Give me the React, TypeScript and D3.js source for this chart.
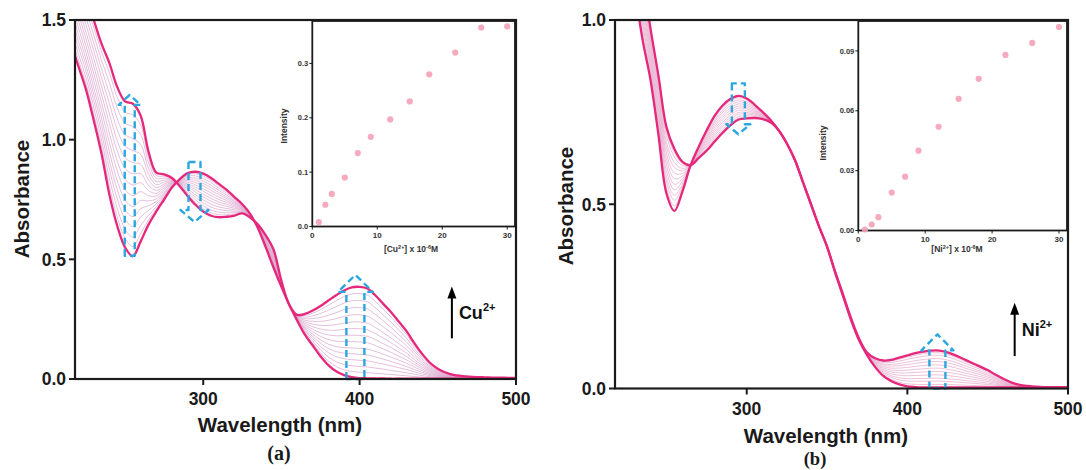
import React from 'react';
import * as d3 from 'd3';

// ---------- DATA ----------
const wavelengths = [218, 220, 225, 230, 235, 240, 245, 250, 255, 260, 265, 270, 275, 280, 285, 290, 295, 300, 305, 310, 315, 320, 325, 330, 335, 340, 345, 350, 355, 360, 365, 370, 375, 380, 385, 390, 395, 400, 405, 410, 415, 420, 425, 430, 435, 440, 445, 450, 455, 460, 465, 470, 475, 480, 485, 490, 495, 500];

// Panel (a): ligand alone and ligand + Cu2+
const cuStart = [1.35, 1.31, 1.21, 1.08, 0.94, 0.77, 0.64, 0.55, 0.513, 0.575, 0.645, 0.70, 0.75, 0.80, 0.835, 0.86, 0.866, 0.858, 0.84, 0.815, 0.79, 0.76, 0.73, 0.69, 0.63, 0.55, 0.465, 0.385, 0.31, 0.245, 0.185, 0.14, 0.095, 0.058, 0.032, 0.016, 0.008, 0.004, 0.003, 0.002, 0.002, 0.001, 0.001, 0.001, 0.001, 0.001, 0.001, 0.001, 0.001, 0.001, 0.001, 0.001, 0.001, 0.001, 0.001, 0.001, 0.001, 0.001];
const cuEnd = [1.78, 1.72, 1.60, 1.50, 1.40, 1.32, 1.22, 1.16, 1.15, 1.10, 0.95, 0.862, 0.855, 0.84, 0.805, 0.765, 0.728, 0.70, 0.682, 0.676, 0.678, 0.683, 0.692, 0.675, 0.645, 0.60, 0.54, 0.41, 0.31, 0.268, 0.272, 0.286, 0.305, 0.328, 0.35, 0.37, 0.383, 0.385, 0.378, 0.35, 0.315, 0.28, 0.24, 0.20, 0.15, 0.105, 0.068, 0.043, 0.027, 0.017, 0.013, 0.010, 0.008, 0.007, 0.006, 0.006, 0.005, 0.005];
// absorbance of each titration trace at 400 nm
const cuLevels400 = [0.004, 0.028, 0.052, 0.078, 0.103, 0.128, 0.155, 0.182, 0.21, 0.238, 0.268, 0.298, 0.328, 0.357, 0.385];

// Panel (b): ligand alone and ligand + Ni2+
const niStart = [1.75, 1.62, 1.30, 1.10, 0.95, 0.84, 0.69, 0.53, 0.482, 0.535, 0.605, 0.655, 0.70, 0.74, 0.768, 0.786, 0.794, 0.787, 0.77, 0.75, 0.728, 0.70, 0.665, 0.62, 0.56, 0.50, 0.44, 0.385, 0.315, 0.25, 0.185, 0.13, 0.09, 0.058, 0.034, 0.02, 0.011, 0.006, 0.004, 0.003, 0.003, 0.003, 0.003, 0.003, 0.003, 0.003, 0.003, 0.003, 0.003, 0.003, 0.003, 0.003, 0.003, 0.003, 0.003, 0.003, 0.003, 0.003];
const niEnd = [1.95, 1.85, 1.56, 1.33, 1.13, 0.98, 0.85, 0.71, 0.65, 0.615, 0.606, 0.625, 0.645, 0.67, 0.694, 0.715, 0.73, 0.733, 0.734, 0.731, 0.722, 0.70, 0.665, 0.62, 0.56, 0.50, 0.44, 0.385, 0.318, 0.255, 0.19, 0.135, 0.097, 0.082, 0.076, 0.078, 0.084, 0.09, 0.096, 0.10, 0.103, 0.103, 0.098, 0.09, 0.08, 0.07, 0.06, 0.05, 0.037, 0.026, 0.016, 0.010, 0.007, 0.005, 0.004, 0.004, 0.004, 0.004];
// absorbance of each titration trace at 420 nm
const niLevels420 = [0.003, 0.011, 0.02, 0.028, 0.037, 0.046, 0.055, 0.064, 0.073, 0.081, 0.09, 0.097, 0.103];

// Insets
const cuConc = [1, 2, 3, 5, 7, 9, 12, 15, 18, 22, 26, 30];
const cuIntensity = [0.008, 0.04, 0.06, 0.09, 0.135, 0.165, 0.197, 0.23, 0.28, 0.32, 0.366, 0.368];
const niConc = [1, 2, 3, 5, 7, 9, 12, 15, 18, 22, 26, 30];
const niIntensity = [0.0005, 0.003, 0.0067, 0.019, 0.027, 0.040, 0.052, 0.066, 0.076, 0.088, 0.094, 0.102];

// Tick labels
const mainXTicks = [300, 400, 500];
const aYTicks = [0, 0.5, 1.0, 1.5];
const bYTicks = [0, 0.5, 1.0];
const insetXTicks = [0, 10, 20, 30];
const cuInsetYTicks = [0, 0.1, 0.2, 0.3];
const niInsetYTicks = [0, 0.03, 0.06, 0.09];

// ---------- STYLE ----------
const SANS = "'Liberation Sans', Arial, Helvetica, sans-serif";
const SERIF = "'Liberation Serif', 'Times New Roman', serif";
const THICK = '#e5287b';
const BLUE = '#2ba6de';
const AXIS = '#1b1b1b';

type Arrow = { wl: number; base: number; tip: number; hs: number; hh: number; hl: number };

function blockArrow(x: d3.ScaleLinear<number, number>, y: d3.ScaleLinear<number, number>, a: Arrow) {
  const cx = x(a.wl);
  const yb = y(a.base);
  const yt = y(a.tip);
  const s = yt < yb ? 1 : -1;
  const hb = yt + s * a.hl;
  const pts: [number, number][] = [
    [cx - a.hs, yb], [cx - a.hs, hb], [cx - a.hh, hb], [cx, yt],
    [cx + a.hh, hb], [cx + a.hs, hb], [cx + a.hs, yb],
  ];
  return d3.line()(pts) + 'Z';
}

type PanelCfg = {
  id: string;
  xRange: [number, number];
  yRange: [number, number];
  yMax: number;
  yTicks: number[];
  start: number[];
  end: number[];
  levels: number[];
  refWl: number;
  thin: string;
  arrows: Arrow[];
  ion: string;
  ionArrow: { wl: number; from: number; to: number };
  title: { x: number; y: number };
  ylab: { x: number; y: number };
  panelLabel: { text: string; x: number; y: number; size: number };
  inset: {
    xRange: [number, number];
    yRange: [number, number];
    xMax: number;
    yMax: number;
    yTicks: number[];
    fmt: string;
    conc: number[];
    vals: number[];
    ylab: { x: number; y: number };
    xlab: { x: number; y: number };
  };
};

function Panel({ c }: { c: PanelCfg }) {
  const x = d3.scaleLinear().domain([218, 500]).range(c.xRange);
  const y = d3.scaleLinear().domain([0, c.yMax]).range(c.yRange);
  const line = d3
    .line<number>()
    .x((_, i) => x(wavelengths[i]))
    .y((d) => y(d))
    .curve(d3.curveCatmullRom.alpha(0.5));
  const ri = wavelengths.indexOf(c.refWl);
  const a0 = c.start[ri];
  const a1 = c.end[ri];
  const traces = c.levels.slice(1, -1).map((lv) => {
    const w = (lv - a0) / (a1 - a0);
    return c.start.map((v, i) => v + w * (c.end[i] - v));
  });
  const [xl, xr] = c.xRange;
  const [yb, yt] = c.yRange;

  const ix = d3.scaleLinear().domain([0, c.inset.xMax]).range(c.inset.xRange);
  const iy = d3.scaleLinear().domain([0, c.inset.yMax]).range(c.inset.yRange);
  const ifmt = d3.format(c.inset.fmt);
  const [ixl, ixr] = c.inset.xRange;
  const [iyb, iyt] = c.inset.yRange;

  const ax = x(c.ionArrow.wl);
  const ay0 = y(c.ionArrow.from);
  const ay1 = y(c.ionArrow.to);

  return (
    <g>
      <defs>
        <clipPath id={`clip-${c.id}`}>
          <rect x={xl} y={yt} width={xr - xl} height={yb - yt} />
        </clipPath>
      </defs>
      <g clipPath={`url(#clip-${c.id})`}>
        {traces.map((t, i) => (
          <path key={i} d={line(t) || ''} fill="none" stroke={c.thin} strokeWidth={0.9} opacity={0.75} />
        ))}
        <path d={line(c.start) || ''} fill="none" stroke={THICK} strokeWidth={2.3} />
        <path d={line(c.end) || ''} fill="none" stroke={THICK} strokeWidth={2.3} />
      </g>
      {c.arrows.map((a, i) => (
        <path key={i} d={blockArrow(x, y, a)} fill="none" stroke={BLUE} strokeWidth={2.4} strokeDasharray="7 4" strokeLinejoin="round" />
      ))}

      {/* ion arrow */}
      <line x1={ax} y1={ay0} x2={ax} y2={ay1 + 10} stroke="#000" strokeWidth={2} />
      <path d={`M${ax - 4.5},${ay1 + 12} L${ax},${ay1} L${ax + 4.5},${ay1 + 12} Z`} fill="#000" />
      <text x={ax + 7} y={(ay0 + ay1) / 2 + 7} fontFamily={SANS} fontWeight="bold" fontSize={18} fill="#111">
        {c.ion}
        <tspan dy={-8} fontSize={11}>2+</tspan>
      </text>

      {/* inset */}
      <rect x={ixl} y={iyt} width={ixr - ixl} height={iyb - iyt} fill="#fff" stroke={AXIS} strokeWidth={1.8} />
      {c.inset.conc.map((v, i) => (
        <circle key={i} cx={ix(v)} cy={iy(c.inset.vals[i])} r={3.1} fill="#f4a2b6" opacity={0.9} />
      ))}
      {c.inset.yTicks.map((t) => (
        <g key={t}>
          <line x1={ixl - 3} x2={ixl} y1={iy(t)} y2={iy(t)} stroke={AXIS} strokeWidth={1} />
          <text x={ixl - 4} y={iy(t)} dy="0.35em" textAnchor="end" fontFamily={SANS} fontWeight="bold" fontSize={7.5} fill="#333">
            {ifmt(t)}
          </text>
        </g>
      ))}
      {insetXTicks.map((t) => (
        <g key={t}>
          <line x1={ix(t)} x2={ix(t)} y1={iyb} y2={iyb + 3} stroke={AXIS} strokeWidth={1} />
          <text x={ix(t)} y={iyb + 11} textAnchor="middle" fontFamily={SANS} fontWeight="bold" fontSize={8} fill="#333">
            {t}
          </text>
        </g>
      ))}
      <text
        transform={`translate(${c.inset.ylab.x},${c.inset.ylab.y}) rotate(-90)`}
        textAnchor="middle"
        dy="0.35em"
        fontFamily={SANS}
        fontWeight="bold"
        fontSize={8.5}
        fill="#333"
      >
        Intensity
      </text>
      <text x={c.inset.xlab.x} y={c.inset.xlab.y} textAnchor="middle" fontFamily={SANS} fontWeight="bold" fontSize={8.5} fill="#333">
        [{c.ion}
        <tspan dy={-3} fontSize={5.5}>2+</tspan>
        <tspan dy={3}>] x 10</tspan>
        <tspan dy={-3} fontSize={5.5}>-6</tspan>
        <tspan dy={3}>M</tspan>
      </text>

      {/* main frame & axes */}
      <rect x={xl} y={yt} width={xr - xl} height={yb - yt} fill="none" stroke={AXIS} strokeWidth={2.2} />
      {c.yTicks.map((t) => (
        <g key={t}>
          <line x1={xl - 6} x2={xl} y1={y(t)} y2={y(t)} stroke={AXIS} strokeWidth={2} />
          <text x={xl - 9} y={y(t)} dy="0.36em" textAnchor="end" fontFamily={SANS} fontWeight="bold" fontSize={17.5} fill="#1a1a1a">
            {d3.format('.1f')(t)}
          </text>
        </g>
      ))}
      {mainXTicks.map((t) => (
        <g key={t}>
          <line x1={x(t)} x2={x(t)} y1={yb} y2={yb + 6} stroke={AXIS} strokeWidth={2} />
          <text x={x(t)} y={yb + 26} textAnchor="middle" fontFamily={SANS} fontWeight="bold" fontSize={17.5} fill="#1a1a1a">
            {t}
          </text>
        </g>
      ))}
      <text x={c.title.x} y={c.title.y} textAnchor="middle" fontFamily={SANS} fontWeight="bold" fontSize={20.5} fill="#1a1a1a">
        Wavelength (nm)
      </text>
      <text
        transform={`translate(${c.ylab.x},${c.ylab.y}) rotate(-90)`}
        textAnchor="middle"
        dy="0.35em"
        fontFamily={SANS}
        fontWeight="bold"
        fontSize={20.5}
        fill="#1a1a1a"
      >
        Absorbance
      </text>
      <text x={c.panelLabel.x} y={c.panelLabel.y} textAnchor="middle" fontFamily={SERIF} fontWeight="bold" fontSize={c.panelLabel.size} fill="#1a1a1a">
        {c.panelLabel.text}
      </text>
    </g>
  );
}

const panelA: PanelCfg = {
  id: 'a',
  xRange: [75, 516],
  yRange: [379, 20],
  yMax: 1.5,
  yTicks: aYTicks,
  start: cuStart,
  end: cuEnd,
  levels: cuLevels400,
  refWl: 400,
  thin: '#d7a0ca',
  arrows: [
    { wl: 253, base: 0.515, tip: 1.187, hs: 5, hh: 11, hl: 10 },
    { wl: 294.4, base: 0.907, tip: 0.656, hs: 6, hh: 14, hl: 12 },
    { wl: 397.3, base: 0, tip: 0.435, hs: 9, hh: 17.5, hl: 17 },
  ],
  ion: 'Cu',
  ionArrow: { wl: 459, from: 0.17, to: 0.386 },
  title: { x: 280, y: 432 },
  ylab: { x: 22, y: 199 },
  panelLabel: { text: '(a)', x: 279, y: 460, size: 20 },
  inset: {
    xRange: [312.3, 515],
    yRange: [226.5, 21],
    xMax: 31.2,
    yMax: 0.378,
    yTicks: cuInsetYTicks,
    fmt: '.1f',
    conc: cuConc,
    vals: cuIntensity,
    ylab: { x: 284, y: 126 },
    xlab: { x: 411, y: 252 },
  },
};

const panelB: PanelCfg = {
  id: 'b',
  xRange: [615, 1068],
  yRange: [388.5, 20],
  yMax: 1.0,
  yTicks: bYTicks,
  start: niStart,
  end: niEnd,
  levels: niLevels420,
  refWl: 420,
  thin: '#e3a2c7',
  arrows: [
    { wl: 294.8, base: 0.828, tip: 0.69, hs: 6.5, hh: 12, hl: 10 },
    { wl: 418.7, base: 0, tip: 0.147, hs: 8, hh: 16, hl: 16 },
  ],
  ion: 'Ni',
  ionArrow: { wl: 466.8, from: 0.088, to: 0.233 },
  title: { x: 826, y: 443 },
  ylab: { x: 566, y: 206 },
  panelLabel: { text: '(b)', x: 815, y: 465, size: 18.5 },
  inset: {
    xRange: [858.3, 1067],
    yRange: [230.5, 21],
    xMax: 31.2,
    yMax: 0.105,
    yTicks: niInsetYTicks,
    fmt: '.2f',
    conc: niConc,
    vals: niIntensity,
    ylab: { x: 823, y: 143 },
    xlab: { x: 957, y: 252 },
  },
};

export default function App() {
  return (
    <svg
      width={1086}
      height={470}
      viewBox="0 0 1086 470"
      style={{ position: 'absolute', left: 0, top: 0, background: '#fff' }}
    >
      <rect x={0} y={0} width={1086} height={470} fill="#fff" />
      <Panel c={panelA} />
      <Panel c={panelB} />
    </svg>
  );
}
